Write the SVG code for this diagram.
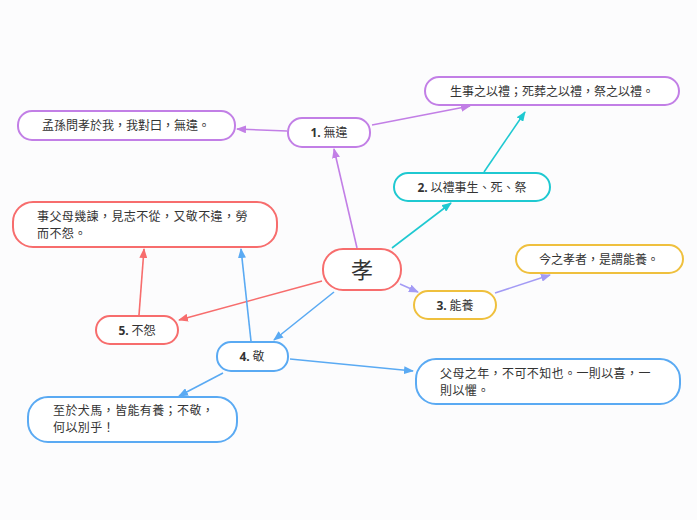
<svg xmlns="http://www.w3.org/2000/svg" width="697" height="520" viewBox="0 0 697 520">
<defs>
<style>
.n{fill:#ffffff;stroke-width:2}
.t{font-family:"Noto Sans CJK TC","Noto Sans CJK SC",sans-serif;font-size:12px;fill:#333}
.c{text-anchor:middle}
.w{letter-spacing:0.4px}
.b{font-weight:bold;font-family:"Open Sans","Noto Sans",sans-serif}
.l{fill:none;stroke-width:1.6}
.pu{stroke:#c27fe6}.cy{stroke:#1fc9d1}.ye{stroke:#efc03e}.re{stroke:#f76d6d}.bl{stroke:#5aaaf3}.la{stroke:#a39bf5}
</style>
<marker id="apu" markerWidth="10" markerHeight="8" refX="9" refY="4" orient="auto" markerUnits="userSpaceOnUse"><path d="M0,0 L10,4 L0,8 z" fill="#c27fe6"/></marker>
<marker id="acy" markerWidth="10" markerHeight="8" refX="9" refY="4" orient="auto" markerUnits="userSpaceOnUse"><path d="M0,0 L10,4 L0,8 z" fill="#1fc9d1"/></marker>
<marker id="are" markerWidth="10" markerHeight="8" refX="9" refY="4" orient="auto" markerUnits="userSpaceOnUse"><path d="M0,0 L10,4 L0,8 z" fill="#f76d6d"/></marker>
<marker id="abl" markerWidth="10" markerHeight="8" refX="9" refY="4" orient="auto" markerUnits="userSpaceOnUse"><path d="M0,0 L10,4 L0,8 z" fill="#5aaaf3"/></marker>
<marker id="ala" markerWidth="10" markerHeight="8" refX="9" refY="4" orient="auto" markerUnits="userSpaceOnUse"><path d="M0,0 L10,4 L0,8 z" fill="#a39bf5"/></marker>
</defs>
<rect width="697" height="520" fill="#fcfcfd"/>
<g id="connectors">
<line class="l pu" x1="357" y1="248" x2="334" y2="149" marker-end="url(#apu)"/>
<line class="l pu" x1="287" y1="131" x2="237" y2="129" marker-end="url(#apu)"/>
<line class="l pu" x1="372" y1="125" x2="470" y2="106" marker-end="url(#apu)"/>
<line class="l cy" x1="392" y1="248" x2="451" y2="203" marker-end="url(#acy)"/>
<line class="l cy" x1="484" y1="172" x2="525" y2="112" marker-end="url(#acy)"/>
<line class="l la" x1="400" y1="284" x2="418" y2="292" marker-end="url(#ala)"/>
<line class="l la" x1="495" y1="293" x2="550" y2="275" marker-end="url(#ala)"/>
<line class="l re" x1="322" y1="281" x2="179" y2="320" marker-end="url(#are)"/>
<line class="l re" x1="139" y1="315" x2="144" y2="249" marker-end="url(#are)"/>
<line class="l bl" x1="334" y1="292" x2="274" y2="340" marker-end="url(#abl)"/>
<line class="l bl" x1="251" y1="341" x2="241" y2="249" marker-end="url(#abl)"/>
<line class="l bl" x1="223" y1="373" x2="179" y2="396" marker-end="url(#abl)"/>
<line class="l bl" x1="290" y1="359" x2="413" y2="371" marker-end="url(#abl)"/>
</g>
<g id="root">
<rect class="n re" x="323" y="249" width="78" height="41" rx="20"/>
<text class="t c" x="362" y="278" style="font-size:22px">孝</text>
</g>
<g id="n1">
<rect class="n pu" x="288" y="118" width="82" height="29" rx="14"/>
<text class="t c" x="329" y="137"><tspan class="b">1.</tspan> 無違</text>
</g>
<g id="n1a">
<rect class="n pu" x="18" y="111" width="217" height="29" rx="14"/>
<text class="t c" x="126" y="130">孟孫問孝於我，我對曰，無違。</text>
</g>
<g id="n12">
<rect class="n pu" x="425" y="77" width="254" height="28" rx="14"/>
<text class="t c" x="552" y="96">生事之以禮；死葬之以禮，祭之以禮。</text>
</g>
<g id="n2">
<rect class="n cy" x="394" y="173" width="156" height="28" rx="14"/>
<text class="t c" x="472" y="192"><tspan class="b">2.</tspan> 以禮事生、死、祭</text>
</g>
<g id="n3">
<rect class="n ye" x="414" y="291" width="82" height="28" rx="14"/>
<text class="t c" x="455" y="310"><tspan class="b">3.</tspan> 能養</text>
</g>
<g id="n3a">
<rect class="n ye" x="516" y="245" width="167" height="28" rx="14"/>
<text class="t c" x="599" y="264">今之孝者，是謂能養。</text>
</g>
<g id="n4">
<rect class="n bl" x="217" y="342" width="71" height="29" rx="14"/>
<text class="t c" x="252" y="361"><tspan class="b">4.</tspan> 敬</text>
</g>
<g id="n4a">
<rect class="n bl" x="28" y="397" width="209" height="45" rx="20"/>
<text class="t w" x="53" y="415">至於犬馬，皆能有養；不敬，</text>
<text class="t w" x="53" y="432">何以別乎！</text>
</g>
<g id="n4b">
<rect class="n bl" x="416" y="359" width="264" height="45" rx="20"/>
<text class="t w" x="440" y="378">父母之年，不可不知也。一則以喜，一</text>
<text class="t w" x="440" y="395">則以懼。</text>
</g>
<g id="n5">
<rect class="n re" x="96" y="316" width="82" height="28" rx="14"/>
<text class="t c" x="137" y="335"><tspan class="b">5.</tspan> 不怨</text>
</g>
<g id="n5a">
<rect class="n re" x="13" y="202" width="264" height="45" rx="20"/>
<text class="t w" x="37" y="221">事父母幾諫，見志不從，又敬不違，勞</text>
<text class="t w" x="37" y="238">而不怨。</text>
</g>
</svg>
